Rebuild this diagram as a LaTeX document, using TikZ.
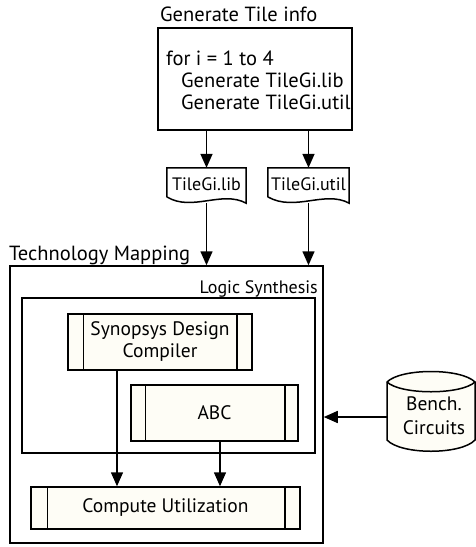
\documentclass[tikz,border=0pt]{standalone}
\usepackage{fontspec}
\setmainfont{PT Sans}
\usetikzlibrary{arrows.meta}
\definecolor{cream}{RGB}{254,253,246}
\begin{document}
\begin{tikzpicture}[x=1pt,y=-1pt,
  box/.style={draw, line width=1.5pt},
  pbox/.style={draw, line width=1.5pt, fill=cream, inner sep=0pt, align=center, font=\fontsize{19.5}{22}\selectfont},
  lbl/.style={inner sep=0pt, font=\fontsize{20.5}{22}\selectfont},
  doclbl/.style={inner sep=0pt, font=\fontsize{18}{20}\selectfont},
  arr/.style={line width=1.5pt, -{Triangle[length=14pt,width=12pt]}},
  plain/.style={line width=1.5pt}
]
\useasboundingbox[fill=white] (0,0) rectangle (476,547);

% Generate Tile info
\node[lbl, anchor=base west] (gentitle) at (160,21) {Generate Tile info};
\node[box, fill=white, minimum width=194pt, minimum height=102pt] (gen) at (255,79) {};
\node[lbl, anchor=west, align=left, font=\fontsize{20.5}{22}\selectfont] (gentxt) at (166,80) {for i = 1 to 4\\\hspace{15pt}Generate TileGi.lib\\\hspace{15pt}Generate TileGi.util};

% Documents
\node[doclbl, minimum width=79pt, minimum height=35pt] (lib) at (206.5,185.5) {};
\draw[box, fill=white] (lib.north west) -- (lib.north east) -- (lib.south east)
  .. controls (222,190) and (192,212) .. (167,197) -- cycle;
\node[doclbl] (libtxt) at (206.5,184) {TileGi.lib};

\node[doclbl, minimum width=81pt, minimum height=35pt] (util) at (308.5,185.5) {};
\draw[box, fill=white] (util.north west) -- (util.north east) -- (util.south east)
  .. controls (325,190) and (295,212) .. (268,197) -- cycle;
\node[doclbl] (utiltxt) at (308.5,184) {TileGi.util};

% Technology mapping
\node[lbl, anchor=base west] (tmlbl) at (9,260) {Technology Mapping};
\node[box, minimum width=313pt, minimum height=277pt] (tm) at (166.5,404.5) {};
\node[lbl, anchor=base east, font=\fontsize{18}{20}\selectfont] (lslbl) at (318,293) {Logic Synthesis};
\node[box, minimum width=293pt, minimum height=155pt] (ls) at (168.5,375.5) {};

% Predefined processes
\node[pbox, minimum width=184pt, minimum height=56pt] (syn) at (160,342) {Synopsys Design\\Compiler};
\draw[plain] ([xshift=16pt]syn.north west) -- ([xshift=16pt]syn.south west);
\draw[plain] ([xshift=-16pt]syn.north east) -- ([xshift=-16pt]syn.south east);

\node[pbox, minimum width=167pt, minimum height=56pt] (abc) at (214.5,413) {ABC};
\draw[plain] ([xshift=15pt]abc.north west) -- ([xshift=15pt]abc.south west);
\draw[plain] ([xshift=-14pt]abc.north east) -- ([xshift=-14pt]abc.south east);

\node[pbox, minimum width=269pt, minimum height=42pt] (comp) at (165.5,508) {Compute Utilization};
\draw[plain] ([xshift=17pt]comp.north west) -- ([xshift=17pt]comp.south west);
\draw[plain] ([xshift=-16pt]comp.north east) -- ([xshift=-16pt]comp.south east);

% Bench circuits cylinder
\node[doclbl, minimum width=88pt, minimum height=70pt] (bench) at (431,415) {};
\draw[box, fill=cream] (387,382) -- (387,440) .. controls (401,455) and (461,455) .. (475,440)
  -- (475,382) .. controls (461,368) and (401,368) .. (387,382) -- cycle;
\draw[plain] (387,382) .. controls (401,395) and (461,395) .. (475,382);
\node[lbl, align=center, font=\fontsize{19.5}{24}\selectfont] (benchtxt) at (434,416) {Bench.\\Circuits};

% Connectors
\draw[arr] (lib.north |- gen.south) -- (lib.north);
\draw[arr] (util.north |- gen.south) -- (util.north);
\draw[arr] (lib.south) -- (lib.south |- tm.north);
\draw[arr] (util.south) -- (util.south |- tm.north);
\draw[arr] ([xshift=-43pt]syn.south) -- ([xshift=-43pt]syn.south |- comp.north);
\draw[arr] ([xshift=5.5pt]abc.south) -- ([xshift=5.5pt]abc.south |- comp.north);
\draw[arr] (bench.west |- 0,417) -- (tm.east |- 0,417);
\end{tikzpicture}
\end{document}
